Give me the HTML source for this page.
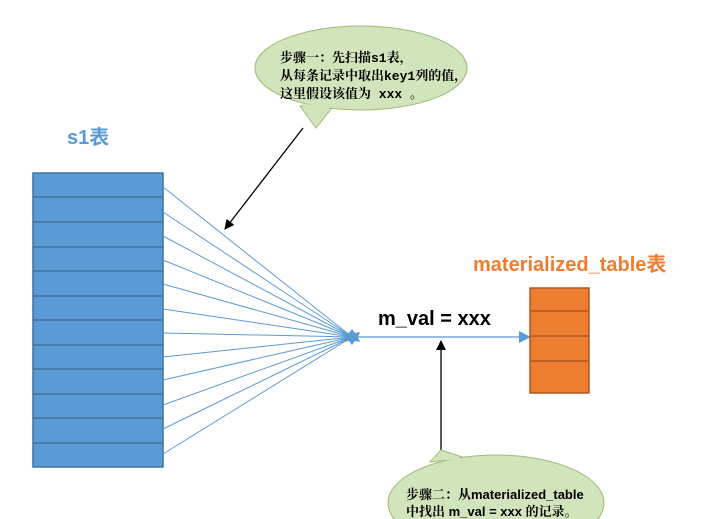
<!DOCTYPE html>
<html><head><meta charset="utf-8"><style>
html,body{margin:0;padding:0;background:#fff;width:728px;height:519px;overflow:hidden;}
svg{display:block;}
</style></head><body>
<svg width="728" height="519" viewBox="0 0 728 519" xmlns="http://www.w3.org/2000/svg" style="overflow:hidden">
<defs>
<marker id="ab" markerWidth="10" markerHeight="10" refX="9" refY="5" orient="auto" markerUnits="userSpaceOnUse"><path d="M0,0 L10,5 L0,10 z" fill="#000"/></marker>
<marker id="ablue" markerWidth="12" markerHeight="12" refX="11" refY="6" orient="auto" markerUnits="userSpaceOnUse"><path d="M0,0 L12,6 L0,12 z" fill="#5b9bd5"/></marker>
<clipPath id="frame"><rect x="0" y="0" width="728" height="519"/></clipPath>
</defs>
<!-- top bubble -->
<path d="M300,106 L316,128 L332,108 Z" fill="#d2e4bb" stroke="#9dbb7c"/>
<ellipse cx="361" cy="68" rx="106" ry="42" fill="#d2e4bb" stroke="#9dbb7c"/>
<path d="M301,104 L316,127 L331,106" fill="#d2e4bb" stroke="none"/>
<text font-family="'Liberation Mono','Noto Serif CJK SC',serif" font-size="13" font-weight="bold" fill="#000">
<tspan x="280" y="62">步骤一：先扫描s1表，</tspan>
<tspan x="280" y="80">从每条记录中取出key1列的值，</tspan>
<tspan x="280" y="98">这里假设该值为 xxx 。</tspan>
</text>
<line x1="303" y1="128" x2="225" y2="229" stroke="#000" stroke-width="1.3" marker-end="url(#ab)"/>
<!-- s1 -->
<text x="67" y="144" font-family="'Liberation Sans','Noto Sans CJK SC',sans-serif" font-size="20" font-weight="bold" fill="#5b9bd5">s1表</text>
<rect x="33" y="173" width="130" height="294" fill="#5b9bd5" stroke="#41719c" stroke-width="1.5"/>
<g stroke="#41719c" stroke-width="1.5">
<line x1="33" y1="197" x2="163" y2="197"/><line x1="33" y1="222" x2="163" y2="222"/>
<line x1="33" y1="247" x2="163" y2="247"/><line x1="33" y1="271" x2="163" y2="271"/>
<line x1="33" y1="296" x2="163" y2="296"/><line x1="33" y1="320" x2="163" y2="320"/>
<line x1="33" y1="345" x2="163" y2="345"/><line x1="33" y1="369" x2="163" y2="369"/>
<line x1="33" y1="394" x2="163" y2="394"/><line x1="33" y1="418" x2="163" y2="418"/>
<line x1="33" y1="443" x2="163" y2="443"/>
</g>
<g stroke="#5b9bd5" stroke-width="1">
<line x1="163" y1="187" x2="352" y2="337"/><line x1="163" y1="212" x2="352" y2="337"/>
<line x1="163" y1="236" x2="352" y2="337"/><line x1="163" y1="260" x2="352" y2="337"/>
<line x1="163" y1="284" x2="352" y2="337"/><line x1="163" y1="309" x2="352" y2="337"/>
<line x1="163" y1="333" x2="352" y2="337"/><line x1="163" y1="357" x2="352" y2="337"/>
<line x1="163" y1="380" x2="352" y2="337"/><line x1="163" y1="405" x2="352" y2="337"/>
<line x1="163" y1="429" x2="352" y2="337"/><line x1="163" y1="454" x2="352" y2="337"/>
</g>
<polygon points="352,329 355,333 360,332 358,337 360,342 355,341 352,345 349,341 344,342 346,337 344,332 349,333" fill="#5b9bd5"/>
<line x1="352" y1="337" x2="530" y2="337" stroke="#5b9bd5" stroke-width="1.2" marker-end="url(#ablue)"/>
<text x="378" y="325" font-family="'Liberation Sans',sans-serif" font-size="20" font-weight="bold" fill="#000">m_val = xxx</text>
<!-- materialized -->
<text x="473" y="271" font-family="'Liberation Sans','Noto Sans CJK SC',sans-serif" font-size="20" font-weight="bold" fill="#ed7d31">materialized_table表</text>
<rect x="530" y="288" width="59" height="105" fill="#ed7d31" stroke="#ae5a21" stroke-width="1.5"/>
<g stroke="#ae5a21" stroke-width="1.5">
<line x1="530" y1="311" x2="589" y2="311"/><line x1="530" y1="336" x2="589" y2="336"/><line x1="530" y1="361" x2="589" y2="361"/>
</g>
<line x1="441" y1="450" x2="441" y2="341" stroke="#000" stroke-width="1.3" marker-end="url(#ab)"/>
<!-- bottom bubble -->
<g clip-path="url(#frame)">
<path d="M430,462 L441,450 L465,458 Z" fill="#d2e4bb" stroke="#9dbb7c"/>
<ellipse cx="496" cy="503" rx="108" ry="48" fill="#d2e4bb" stroke="#9dbb7c"/>
<path d="M431,461 L441,451 L463,459" fill="#d2e4bb" stroke="none"/>
</g>
<text font-family="'Liberation Sans','Noto Serif CJK SC',serif" font-size="13" font-weight="bold" fill="#000">
<tspan x="406" y="499">步骤二：从materialized_table</tspan>
<tspan x="406" y="516">中找出 m_val = xxx 的记录。</tspan>
</text>
</svg>
</body></html>
